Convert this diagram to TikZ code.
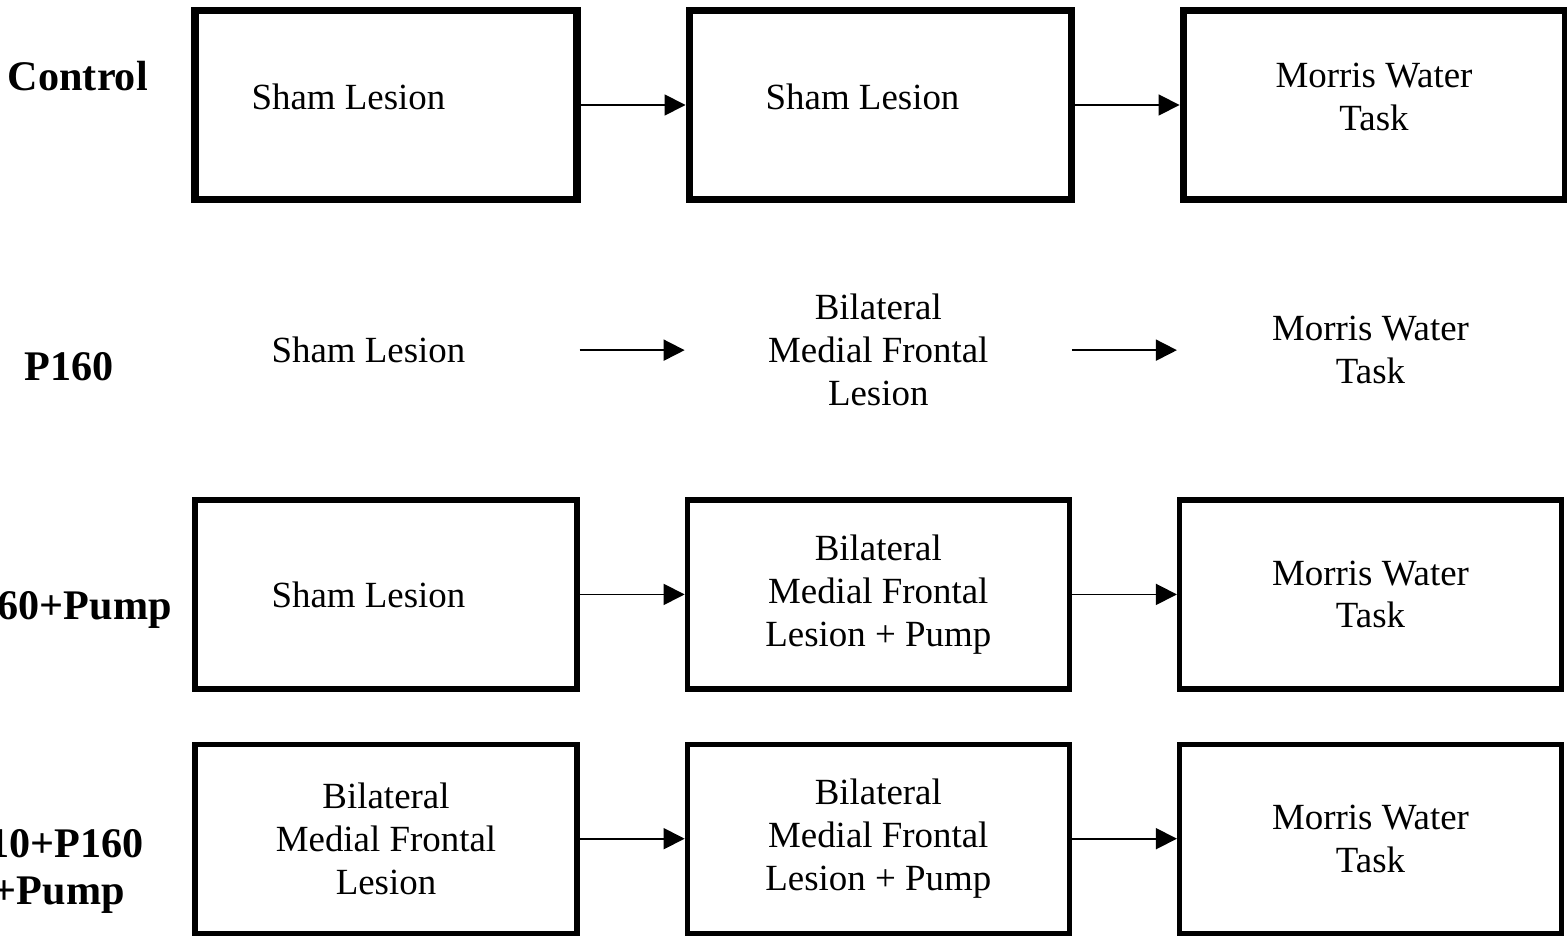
\documentclass[tikz,border=0pt]{standalone}
\usepackage{fontspec}
\setmainfont{Liberation Serif}
\usetikzlibrary{positioning, arrows.meta}
\tikzset{
	->,
	>={Triangle[length=0.42cm,width=0.42cm]},
	node distance=1.0cm and 2.1cm,
	stage/.style={draw, line width=3pt, minimum width=7.64cm, minimum height=3.78cm,
		align=center, font=\fontsize{21}{24.4}\selectfont, inner sep=0pt},
	thickstage/.style={stage, line width=4pt},
	openstage/.style={stage, draw=none},
	group/.style={font=\bfseries\fontsize{24}{27}\selectfont, align=right, anchor=east},
	every edge/.style={draw, line width=1pt}}

\begin{document}
\begin{tikzpicture}
		\useasboundingbox (0,0) rectangle (31.34,-18.74);

		\node[thickstage] (c1) at (7.72,-2.1) {Sham Lesion\hspace*{1.5cm}\\[-0.54cm]};
		\node[thickstage, right=of c1] (c2) {Sham Lesion\hspace*{0.7cm}\\[-0.54cm]};
		\node[thickstage, right=of c2] (c3) {Morris Water\\Task\\[-0.54cm]};

		\node[openstage, below=of c1] (p1) {Sham Lesion\hspace*{0.7cm}};
		\node[openstage, right=of p1] (p2) {Bilateral\\Medial Frontal\\Lesion};
		\node[openstage, right=of p2] (p3) {Morris Water\\Task};

		\node[stage, below=of p1] (q1) {Sham Lesion\hspace*{0.7cm}};
		\node[stage, right=of q1] (q2) {Bilateral\\Medial Frontal\\Lesion + Pump};
		\node[stage, right=of q2] (q3) {Morris Water\\Task};

		\node[stage, below=of q1] (r1) {Bilateral\\Medial Frontal\\Lesion};
		\node[stage, right=of r1] (r2) {Bilateral\\Medial Frontal\\Lesion + Pump};
		\node[stage, right=of r2] (r3) {Morris Water\\Task};

		\node[group] (gc) at (3.08,-1.52) {Control};
		\node[group] (gp) at (2.4,-7.34) {P160};
		\node[group] (gq) at (3.56,-12.2) {60+Pump};
		\node[group] (gr) at (3.0,-17.43) {10+P160\\+Pump\hspace*{0.38cm}};

		\draw
		(c1) edge[] node{} (c2)
		(c2) edge[] node{} (c3)
		(p1) edge[] node{} (p2)
		(p2) edge[] node{} (p3)
		(q1) edge[] node{} (q2)
		(q2) edge[] node{} (q3)
		(r1) edge[] node{} (r2)
		(r2) edge[] node{} (r3)
		;

	\end{tikzpicture}
\end{document}
